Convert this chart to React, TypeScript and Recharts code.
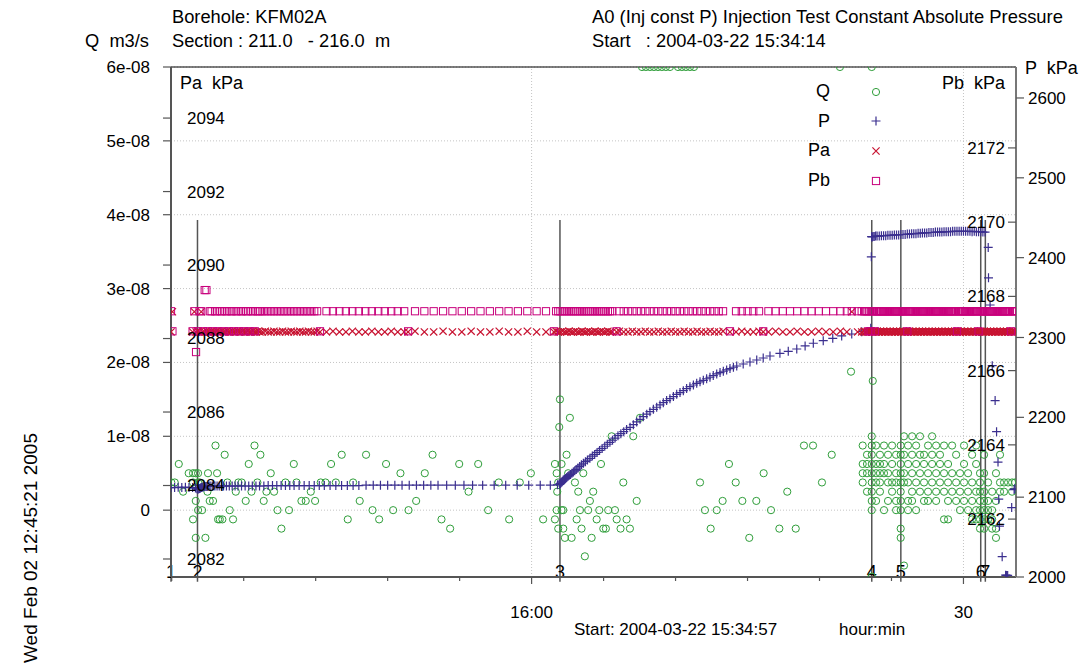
import React from "react";
import {
  ComposedChart,
  Scatter,
  XAxis,
  YAxis,
  CartesianGrid,
  ReferenceLine,
  Legend,
} from "recharts";

const FONT = '"Liberation Sans", Arial, sans-serif';
const Q_COLOR = "#2f9e3a";
const P_COLOR = "#3b2f8f";
const PA_COLOR = "#c81432";
const PB_COLOR = "#c8007c";
const AXIS_COLOR = "#555";

// x values are clock minutes after 15:00
const xTicks = [35, 40, 45, 50, 55, 60, 65, 70, 75, 80, 85, 90];
const xTickLabels: Record<number, string> = { 60: "16:00", 90: "30" };
const xGridAt = [60, 90];

// Q is kept in units of 1e-9 m3/s
const qTicks = [0, 10, 20, 30, 40, 50, 60];
const qTickLabels = ["0", "1e-08", "2e-08", "3e-08", "4e-08", "5e-08", "6e-08"];
const pTicks = [2000, 2100, 2200, 2300, 2400, 2500, 2600];
const paTicks = [2082, 2084, 2086, 2088, 2090, 2092, 2094];
const pbTicks = [2162, 2164, 2166, 2168, 2170, 2172];

const events = [
  { n: "1", t: 34.95 },
  { n: "2", t: 36.79 },
  { n: "3", t: 61.97 },
  { n: "4", t: 83.63 },
  { n: "5", t: 85.65 },
  { n: "6", t: 91.2 },
  { n: "7", t: 91.52 },
];

const qBefore3: [number, number][] = [
  [34.97, 3.75], [35.21, 3.75], [35.49, 6.25], [35.79, 2.5], [36.18, 5], [36.48, 5], [36.67, 5], [36.83, 5],
  [36.48, 3.75], [36.83, 3.75], [36.95, 3.75], [36.67, 1.25], [36.48, -1.25], [36.67, -3.75], [36.83, 0], [37.11, 0],
  [37.34, -3.75], [37.48, 2.5], [37.52, 5], [37.64, 1.25], [37.87, 1.25], [38.04, 8.75], [38.15, 5], [38.22, -1.25],
  [38.34, -1.25], [38.52, -1.25], [38.68, 7.5], [38.87, 3.75], [39.03, 0], [39.26, -1.25], [39.45, 2.5], [39.63, 3.75],
  [39.86, 3.75], [40.14, 1.25], [40.35, 6.25], [40.54, 2.5], [40.75, 8.75], [40.95, 3.75], [41.16, 7.5], [41.39, 1.25],
  [41.58, 2.5], [41.88, 5], [42.11, 2.5], [42.35, 0], [42.62, -2.5], [42.9, 3.75], [43.15, 0], [43.48, 6.25],
  [43.67, 3.75], [44.01, 1.25], [44.31, 1.25], [44.66, 2.5], [44.96, 1.25], [45.35, 3.75], [45.68, 3.75], [46.07, 6.25],
  [46.4, 3.75], [46.81, 7.5], [47.23, -1.25], [47.6, 3.75], [48.06, 1.25], [48.5, 7.5], [48.95, 0], [49.41, -1.25],
  [49.89, 6.25], [50.38, 0], [50.89, 5], [51.45, 0], [51.98, 1.25], [52.58, 5], [53.12, 7.5], [53.74, -1.25],
  [54.34, -2.5], [54.97, 6.25], [55.62, 2.5], [56.29, 6.25], [56.98, 0], [57.72, 3.75], [58.44, -1.25], [59.18, 3.75],
  [59.95, 5], [60.8, -1.25],
];

const qNear3: [number, number][] = [
  [61.62, 6.25], [61.62, -1.25], [61.74, 5], [61.74, 0], [61.78, 2.5], [61.85, 3.75], [61.85, -2.5], [61.92, 11.25],
  [61.97, 15], [62.08, 6.25], [62.08, 0], [62.2, 0], [62.2, -2.5], [62.31, -3.75], [62.43, 7.5], [62.54, 5],
  [62.66, 12.5], [62.78, -3.75], [63.01, 3.75], [63.13, -1.25], [63.24, 2.5], [63.36, 0], [63.47, -2.5], [63.59, 5],
  [63.7, -6.25], [63.93, 0], [64.05, 1.25], [64.17, -3.75], [64.28, 2.5], [64.52, -1.25], [64.7, 0], [64.82, 6.25],
  [64.98, -2.5], [65.16, -2.5], [65.32, 0], [65.56, 10], [65.79, 0], [65.91, -1.25], [66.18, -2.5], [66.37, 3.75],
  [66.6, -1.25], [66.83, -2.5], [67.06, 10], [67.3, 1.25], [67.53, 12.5],
];

const qMid: [number, number][] = [
  [71.7, 3.75], [72.04, 0], [72.44, -2.5], [72.86, 0], [73.27, 1.25], [73.71, 6.25], [74.18, 3.75], [74.64, 1.25],
  [75.12, -3.75], [75.61, 1.25], [76.12, 5], [76.63, 0], [77.21, -2.5], [77.76, 2.5], [78.35, -2.5], [78.92, 8.75],
  [79.55, 8.75], [80.17, 3.75], [80.85, 7.5], [82.19, 18.75], [83.7, 17.5],
];

// readings off the top of the Q scale sit on the top border
const qTop: [number, number][] = [
  [67.67, 60], [67.94, 60], [68.22, 60], [68.5, 60], [68.78, 60], [69.05, 60], [69.33, 60], [69.61, 60],
  [70.17, 60], [70.44, 60], [70.72, 60], [71.0, 60], [71.28, 60], [81.42, 60], [83.63, 60],
];

const qDenseCols: [number, number[]][] = [
  [83.0, [8.75, 6.25, 5, 3.75]],
  [83.3, [7.5, 6.25, 5, 2.5]],
  [83.63, [10, 8.75, 7.5, 6.25, 5, 3.75, 2.5, 1.25, 0, -9]],
  [83.93, [8.75, 6.25, 5, 3.75, 1.25]],
  [84.2, [7.5, 6.25, 5, 3.75, 2.5]],
  [84.48, [8.75, 6.25, 5, 0]],
  [84.76, [7.5, 5, 3.75, 1.25]],
  [85.04, [8.75, 6.25, 3.75, 2.5]],
  [85.32, [7.5, 5, 3.75, 1.25, 0]],
  [85.64, [8.75, 7.5, 6.25, 5, 3.75, 2.5, 1.25, 0, -2.5, -3.75]],
  [85.87, [10, 7.5, 5, 3.75, -7.5]],
  [86.15, [8.75, 6.25, 3.75, 1.25, 0]],
  [86.43, [10, 7.5, 5, 2.5, 1.25]],
  [86.71, [8.75, 6.25, 3.75, 0]],
  [86.98, [10, 7.5, 5, 2.5]],
  [87.26, [7.5, 6.25, 3.75, 1.25]],
  [87.54, [8.75, 5, 2.5, 1.25]],
  [87.82, [10, 7.5, 6.25, 3.75]],
  [88.1, [8.75, 5, 2.5, 1.25]],
  [88.37, [7.5, 6.25, 3.75]],
  [88.65, [8.75, 5, 2.5, -1.25]],
  [88.93, [6.25, 3.75, 1.25, -1.25]],
  [89.21, [8.75, 5, 2.5]],
  [89.49, [7.5, 3.75, 1.25]],
  [89.76, [5, 2.5, 0]],
  [90.04, [8.75, 6.25, 3.75, 1.25]],
  [90.32, [5, 2.5, 0]],
  [90.6, [7.5, 3.75, 1.25, -1.25]],
  [90.88, [8.75, 6.25, 2.5, 0, -1.25]],
  [91.15, [5, 3.75, 2.5, 1.25, 0, -1.25, -2.5]],
  [91.43, [7.5, 5, 2.5, 1.25, 0, -1.25, -2.5]],
  [91.71, [3.75, 1.25, 0, -1.25]],
  [91.99, [2.5, 0, -1.25, -2.5]],
  [92.26, [5, 1.25, -2.5, -3.75]],
  [92.54, [7.5, 3.75, 2.5]],
  [92.82, [3.75, 2.5]],
  [93.1, [3.75]],
  [93.38, [3.75, 2.5]],
  [93.59, [3.75]],
];

const pBefore3: [number, number][] = [
  [34.95, 2112], [35.2, 2112], [35.45, 2112.5], [35.7, 2112], [35.95, 2112.5], [36.2, 2112], [36.45, 2112], [36.65, 2111.5],
  [36.75, 2110.5], [36.82, 2110], [36.88, 2110.5], [36.94, 2111], [37.0, 2111.5], [37.06, 2112], [37.12, 2112.5], [37.18, 2113],
  [37.25, 2113], [37.32, 2113.5], [37.4, 2113.5], [37.5, 2113.5], [37.6, 2114], [37.72, 2114], [37.85, 2114], [38.0, 2114],
  [38.15, 2114], [38.3, 2114], [38.45, 2114], [38.6, 2114], [38.8, 2114], [39.0, 2114], [39.2, 2114], [39.4, 2114],
  [39.6, 2114], [39.85, 2114], [40.1, 2114], [40.35, 2114], [40.6, 2114], [40.85, 2114], [41.1, 2114], [41.4, 2114],
  [41.7, 2114.5], [42.0, 2114.5], [42.3, 2114.5], [42.6, 2114.5], [42.9, 2114.5], [43.2, 2114.5], [43.5, 2114.5], [43.85, 2114.5],
  [44.2, 2114.5], [44.55, 2114.5], [44.9, 2114.5], [45.25, 2114.5], [45.6, 2114.5], [46.0, 2114.5], [46.4, 2114.5], [46.8, 2114.5],
  [47.2, 2114.5], [47.6, 2114.5], [48.0, 2114.5], [48.5, 2115], [49.0, 2115], [49.5, 2115], [50.0, 2115], [50.5, 2115],
  [51.0, 2115], [51.5, 2115], [52.0, 2115], [52.5, 2115], [53.0, 2115], [53.5, 2115], [54.1, 2115], [54.7, 2115],
  [55.3, 2115], [55.9, 2115], [56.6, 2115], [57.4, 2115], [58.2, 2115], [59.0, 2115], [59.8, 2115], [60.6, 2115],
  [61.3, 2115], [61.8, 2115.5],
];

const pRise: [number, number][] = [
  [61.95, 2116], [62.0, 2117], [62.05, 2118], [62.1, 2119], [62.15, 2120], [62.2, 2121.5], [62.28, 2122.5], [62.36, 2123.5],
  [62.44, 2124.5], [62.52, 2126], [62.6, 2127], [62.7, 2128.5], [62.8, 2130], [62.9, 2131.5], [63.0, 2133], [63.1, 2134.5],
  [63.22, 2136.5], [63.34, 2138.5], [63.46, 2140.5], [63.6, 2142.5], [63.74, 2144.5], [63.88, 2146.5], [64.05, 2148.7], [64.22, 2151.5],
  [64.38, 2153.5], [64.55, 2156], [64.72, 2158.5], [64.9, 2161], [65.08, 2163.8], [65.26, 2166.3], [65.44, 2168.7], [65.62, 2171.3],
  [65.8, 2174], [66.0, 2177], [66.2, 2179.5], [66.4, 2182], [66.6, 2184.8], [66.84, 2187.5], [67.07, 2190.8], [67.3, 2194.2],
  [67.53, 2197.5], [67.76, 2200.8], [68.0, 2204], [68.22, 2207.1], [68.46, 2210], [68.69, 2212.6], [68.92, 2215.5], [69.15, 2218.4],
  [69.38, 2221], [69.61, 2223.4], [69.85, 2226], [70.08, 2228.8], [70.31, 2231], [70.54, 2233.4], [70.77, 2236], [71.0, 2238.4],
  [71.24, 2240.5], [71.47, 2242.6], [71.7, 2244.5], [71.93, 2246.4], [72.16, 2248.3], [72.39, 2250.2], [72.62, 2252.3], [72.86, 2254.3],
  [73.09, 2256], [73.32, 2257.7], [73.55, 2259.4], [73.78, 2261], [74.02, 2262.7], [74.25, 2264.3], [74.7, 2266.8], [75.17, 2269.3],
  [75.64, 2271.8], [76.09, 2274.3], [76.56, 2276.8], [77.25, 2280.2], [77.83, 2282.7], [78.42, 2285.6], [79.0, 2289.4], [79.57, 2292.8],
  [80.26, 2296], [80.92, 2299], [81.54, 2301.9], [82.24, 2304.4], [82.93, 2307.3], [83.56, 2311.5],
];

const pPlateau: [number, number][] = [
  [83.6, 2401], [83.62, 2426.3], [83.66, 2426], [83.72, 2426.5], [83.8, 2426.5], [83.9, 2427], [84.0, 2427], [84.15, 2427],
  [84.3, 2427.5], [84.45, 2427.5], [84.6, 2427.5], [84.75, 2428], [84.9, 2428], [85.05, 2428], [85.2, 2428.5], [85.35, 2428.5],
  [85.5, 2428.5], [85.65, 2429], [85.8, 2429], [85.95, 2429], [86.1, 2429.5], [86.25, 2429.5], [86.4, 2430], [86.55, 2430],
  [86.7, 2430], [86.85, 2430.5], [87.0, 2430.5], [87.15, 2431], [87.3, 2431], [87.45, 2431], [87.6, 2431.5], [87.75, 2431.5],
  [87.9, 2431.5], [88.05, 2432], [88.2, 2432], [88.35, 2432], [88.5, 2432], [88.65, 2432.5], [88.8, 2432.5], [88.95, 2432.5],
  [89.1, 2432.5], [89.25, 2433], [89.4, 2433], [89.55, 2433], [89.7, 2433], [89.85, 2433], [90.0, 2433], [90.15, 2433],
  [90.3, 2433], [90.45, 2433], [90.6, 2432.5], [90.75, 2433], [90.9, 2432.5], [91.05, 2432.5], [91.2, 2432.5], [91.35, 2432],
  [91.5, 2432],
];

const pDrop: [number, number][] = [
  [91.72, 2412.8], [91.74, 2374.7], [91.85, 2340.7], [92.0, 2264.7], [92.2, 2221], [92.3, 2182], [92.4, 2144], [92.45, 2097.5],
  [92.5, 2063.6], [92.69, 2025.5], [92.93, 2002.3], [93.0, 2002], [93.07, 2002], [93.35, 2087], [93.52, 2109.5], [93.57, 2110.5],
];

// [t, Pa, Pb]
const pressRows: [number, number, number][] = [
  [34.95, 2088.18, 2167.6], [35.05, 2088.73, 2167.06],
  [36.45, 2088.18, 2167.06], [36.57, 2088.73, 2167.6], [36.69, 2088.18, 2166.5], [36.81, 2088.2, 2167.06], [36.93, 2088.18, 2167.6],
  [37.05, 2088.73, 2167.6], [37.17, 2088.18, 2167.06], [37.29, 2088.18, 2168.17], [37.41, 2088.2, 2168.17], [37.53, 2088.18, 2167.06],
  [37.65, 2088.18, 2167.6], [37.77, 2088.2, 2167.6], [37.89, 2088.18, 2167.06], [38.01, 2088.18, 2167.6], [38.13, 2088.2, 2167.6],
  [38.25, 2088.18, 2167.06], [38.37, 2088.18, 2167.6], [38.49, 2088.2, 2167.6], [38.61, 2088.18, 2167.06], [38.73, 2088.18, 2167.6],
  [38.85, 2088.2, 2167.6], [38.97, 2088.18, 2167.06], [39.09, 2088.18, 2167.6], [39.21, 2088.2, 2167.6], [39.33, 2088.18, 2167.06],
  [39.45, 2088.18, 2167.6], [39.57, 2088.2, 2167.6], [39.69, 2088.18, 2167.06], [39.81, 2088.18, 2167.6], [39.93, 2088.2, 2167.6],
  [40.05, 2088.18, 2167.06], [40.17, 2088.18, 2167.6], [40.29, 2088.2, 2167.6], [40.41, 2088.18, 2167.06], [40.53, 2088.18, 2167.6],
  [40.65, 2088.2, 2167.6], [40.77, 2088.18, 2167.06], [40.89, 2088.18, 2167.6], [41.01, 2088.2, 2167.6], [41.13, 2088.18, 2167.6],
  [41.3, 2088.18, 2167.6], [41.5, 2088.2, 2167.6], [41.7, 2088.18, 2167.6], [41.9, 2088.18, 2167.6], [42.1, 2088.2, 2167.6],
  [42.3, 2088.18, 2167.6], [42.5, 2088.18, 2167.6], [42.7, 2088.2, 2167.6], [42.9, 2088.18, 2167.6], [43.1, 2088.18, 2167.6],
  [43.3, 2088.2, 2167.6], [43.5, 2088.18, 2167.6], [43.7, 2088.18, 2167.6], [43.9, 2088.2, 2167.6], [44.1, 2088.18, 2167.6],
  [44.3, 2088.18, 2167.6], [44.5, 2088.2, 2167.6], [44.7, 2088.18, 2167.6], [44.9, 2088.18, 2167.6], [45.1, 2088.2, 2167.6],
  [45.3, 2088.18, 2167.06], [45.75, 2088.18, 2167.6], [46.2, 2088.2, 2167.6], [46.65, 2088.18, 2167.6], [47.1, 2088.18, 2167.6],
  [47.55, 2088.2, 2167.6], [48.0, 2088.18, 2167.6], [48.45, 2088.18, 2167.6], [48.9, 2088.2, 2167.6], [49.35, 2088.18, 2167.6],
  [49.8, 2088.18, 2167.6], [50.25, 2088.2, 2167.6], [50.7, 2088.18, 2167.6], [51.15, 2088.18, 2167.6], [51.42, 2088.18, 2167.06],
  [51.9, 2088.2, 2167.6], [52.55, 2088.18, 2167.6], [53.2, 2088.18, 2167.6], [53.85, 2088.2, 2167.6], [54.5, 2088.18, 2167.6],
  [55.15, 2088.18, 2167.6], [55.8, 2088.2, 2167.6], [56.45, 2088.18, 2167.6], [57.1, 2088.18, 2167.6], [57.75, 2088.2, 2167.6],
  [58.4, 2088.18, 2167.6], [59.05, 2088.18, 2167.6], [59.7, 2088.2, 2167.6], [60.35, 2088.18, 2167.6], [61.0, 2088.18, 2167.6],
  [61.55, 2088.18, 2167.06], [61.7, 2088.2, 2167.6], [61.85, 2088.18, 2167.6], [62.0, 2088.18, 2167.6], [62.15, 2088.2, 2167.6],
  [62.3, 2088.18, 2167.6], [62.45, 2088.18, 2167.6], [62.6, 2088.2, 2167.6], [62.75, 2088.18, 2167.6], [62.9, 2088.18, 2167.6],
  [63.05, 2088.2, 2167.6], [63.2, 2088.18, 2167.6], [63.35, 2088.18, 2167.6], [63.5, 2088.2, 2167.6], [63.65, 2088.18, 2167.6],
  [63.8, 2088.18, 2167.6], [63.95, 2088.2, 2167.6], [64.1, 2088.18, 2167.6], [64.25, 2088.18, 2167.6], [64.4, 2088.2, 2167.6],
  [64.55, 2088.18, 2167.6], [64.7, 2088.18, 2167.6], [64.85, 2088.2, 2167.6], [65.0, 2088.18, 2167.6], [65.15, 2088.18, 2167.6],
  [65.3, 2088.2, 2167.6], [65.45, 2088.18, 2167.6], [65.6, 2088.18, 2167.6], [65.9, 2088.18, 2167.06], [66.1, 2088.2, 2167.6],
  [66.4, 2088.18, 2167.6], [66.7, 2088.18, 2167.6], [67.0, 2088.2, 2167.6], [67.3, 2088.18, 2167.6], [67.6, 2088.18, 2167.6],
  [67.9, 2088.2, 2167.6], [68.2, 2088.18, 2167.6], [68.5, 2088.18, 2167.6], [68.8, 2088.2, 2167.6], [69.1, 2088.18, 2167.6],
  [69.4, 2088.18, 2167.6], [69.7, 2088.2, 2167.6], [70.0, 2088.18, 2167.6], [70.3, 2088.18, 2167.6], [70.6, 2088.2, 2167.6],
  [70.9, 2088.18, 2167.6], [71.2, 2088.18, 2167.6], [71.5, 2088.2, 2167.6], [71.8, 2088.18, 2167.6], [72.1, 2088.18, 2167.6],
  [72.4, 2088.2, 2167.6], [72.7, 2088.18, 2167.6], [73.0, 2088.18, 2167.6], [73.3, 2088.2, 2167.6], [73.78, 2088.18, 2167.06],
  [74.2, 2088.18, 2167.6], [74.6, 2088.2, 2167.6], [75.0, 2088.18, 2167.6], [75.4, 2088.18, 2167.6], [75.8, 2088.2, 2167.6],
  [76.09, 2088.18, 2167.06], [76.45, 2088.18, 2167.6], [76.95, 2088.2, 2167.6], [77.45, 2088.18, 2167.6], [77.95, 2088.18, 2167.6],
  [78.45, 2088.2, 2167.6], [78.95, 2088.18, 2167.6], [79.45, 2088.18, 2167.6], [79.95, 2088.2, 2167.6], [80.45, 2088.18, 2167.6],
  [80.95, 2088.18, 2167.6], [81.45, 2088.2, 2167.6], [81.9, 2088.18, 2167.6], [82.24, 2088.73, 2167.6], [82.65, 2088.18, 2167.6],
  [82.93, 2088.18, 2167.6], [83.1, 2088.2, 2167.6], [83.25, 2088.18, 2167.6], [83.4, 2088.18, 2167.06], [83.55, 2088.2, 2167.06],
  [83.7, 2088.18, 2167.6], [83.85, 2088.18, 2167.06], [84.0, 2088.2, 2167.6], [84.15, 2088.18, 2167.6], [84.3, 2088.18, 2167.6],
  [84.45, 2088.2, 2167.6], [84.6, 2088.18, 2167.6], [84.75, 2088.18, 2167.6], [84.9, 2088.2, 2167.6], [85.05, 2088.18, 2167.6],
  [85.2, 2088.18, 2167.6], [85.35, 2088.2, 2167.6], [85.5, 2088.18, 2167.6], [85.65, 2088.18, 2167.6], [85.8, 2088.2, 2167.6],
  [85.95, 2088.18, 2167.6], [86.1, 2088.18, 2167.06], [86.25, 2088.2, 2167.6], [86.4, 2088.18, 2167.6], [86.55, 2088.18, 2167.6],
  [86.7, 2088.2, 2167.6], [86.85, 2088.18, 2167.6], [87.0, 2088.18, 2167.6], [87.15, 2088.2, 2167.6], [87.3, 2088.18, 2167.6],
  [87.45, 2088.18, 2167.6], [87.6, 2088.2, 2167.6], [87.75, 2088.18, 2167.6], [87.9, 2088.18, 2167.6], [88.05, 2088.2, 2167.6],
  [88.2, 2088.18, 2167.6], [88.35, 2088.18, 2167.6], [88.5, 2088.2, 2167.6], [88.65, 2088.18, 2167.6], [88.8, 2088.18, 2167.6],
  [88.95, 2088.2, 2167.6], [89.1, 2088.18, 2167.6], [89.25, 2088.18, 2167.6], [89.4, 2088.2, 2167.6], [89.55, 2088.18, 2167.06],
  [89.7, 2088.18, 2167.6], [89.85, 2088.2, 2167.6], [90.0, 2088.18, 2167.6], [90.15, 2088.18, 2167.6], [90.3, 2088.2, 2167.6],
  [90.45, 2088.18, 2167.6], [90.6, 2088.18, 2167.6], [90.75, 2088.2, 2167.6], [90.9, 2088.18, 2167.6], [91.05, 2088.18, 2167.06],
  [91.2, 2088.2, 2167.6], [91.35, 2088.18, 2167.6], [91.5, 2088.18, 2167.6], [91.65, 2088.2, 2167.6], [91.8, 2088.18, 2167.6],
  [91.95, 2088.18, 2167.6], [92.1, 2088.2, 2167.6], [92.25, 2088.18, 2167.6], [92.4, 2088.18, 2167.6], [92.55, 2088.2, 2167.6],
  [92.7, 2088.18, 2167.6], [92.85, 2088.18, 2167.6], [93.0, 2088.2, 2167.6], [93.15, 2088.18, 2167.6], [93.3, 2088.18, 2167.06],
  [93.45, 2088.2, 2167.6], [93.6, 2088.18, 2167.6],
  // the logger sampled faster after event 4
  [83.18, 2088.18, 2167.6], [83.33, 2088.2, 2167.6], [83.48, 2088.18, 2167.6], [83.63, 2088.18, 2167.6], [83.78, 2088.2, 2167.6],
  [83.93, 2088.18, 2167.6], [84.08, 2088.18, 2167.6], [84.23, 2088.2, 2167.6], [84.38, 2088.18, 2167.6], [84.53, 2088.18, 2167.6],
  [84.68, 2088.2, 2167.6], [84.83, 2088.18, 2167.6], [84.98, 2088.18, 2167.6], [85.13, 2088.2, 2167.6], [85.28, 2088.18, 2167.6],
  [85.43, 2088.18, 2167.6], [85.58, 2088.2, 2167.6], [85.73, 2088.18, 2167.6], [85.88, 2088.18, 2167.6], [86.03, 2088.2, 2167.6],
  [86.18, 2088.18, 2167.6], [86.33, 2088.18, 2167.6], [86.48, 2088.2, 2167.6], [86.63, 2088.18, 2167.6], [86.78, 2088.18, 2167.6],
  [86.93, 2088.2, 2167.6], [87.08, 2088.18, 2167.6], [87.23, 2088.18, 2167.6], [87.38, 2088.2, 2167.6], [87.53, 2088.18, 2167.6],
  [87.68, 2088.18, 2167.6], [87.83, 2088.2, 2167.6], [87.98, 2088.18, 2167.6], [88.13, 2088.18, 2167.6], [88.28, 2088.2, 2167.6],
  [88.43, 2088.18, 2167.6], [88.58, 2088.18, 2167.6], [88.73, 2088.2, 2167.6], [88.88, 2088.18, 2167.6], [89.03, 2088.18, 2167.6],
  [89.18, 2088.2, 2167.6], [89.33, 2088.18, 2167.6], [89.48, 2088.18, 2167.6], [89.63, 2088.2, 2167.6], [89.78, 2088.18, 2167.6],
  [89.93, 2088.18, 2167.6], [90.08, 2088.2, 2167.6], [90.23, 2088.18, 2167.6], [90.38, 2088.18, 2167.6], [90.53, 2088.2, 2167.6],
  [90.68, 2088.18, 2167.6], [90.83, 2088.18, 2167.6], [90.98, 2088.2, 2167.6], [91.13, 2088.18, 2167.6], [91.28, 2088.18, 2167.6],
  [91.43, 2088.2, 2167.6], [91.58, 2088.18, 2167.6], [91.73, 2088.18, 2167.6], [91.88, 2088.2, 2167.6], [92.03, 2088.18, 2167.6],
  [92.18, 2088.18, 2167.6], [92.33, 2088.2, 2167.6], [92.48, 2088.18, 2167.6], [92.63, 2088.18, 2167.6], [92.78, 2088.2, 2167.6],
  [92.93, 2088.18, 2167.6], [93.08, 2088.18, 2167.6], [93.23, 2088.2, 2167.6], [93.38, 2088.18, 2167.6], [93.53, 2088.18, 2167.6],
];

const qData = [
  ...qBefore3,
  ...qNear3,
  ...qMid,
  ...qTop,
  ...qDenseCols.flatMap(([t, qs]) => qs.map((q) => [t, q] as [number, number])),
].map(([t, q]) => ({ t, q }));
const pData = [...pBefore3, ...pRise, ...pPlateau, ...pDrop].map(([t, p]) => ({ t, p }));
const paData = pressRows.map(([t, pa]) => ({ t, pa }));
const pbData = pressRows.map(([t, , pb]) => ({ t, pb }));

const legendRows = [
  { name: "Q", kind: "ring", color: Q_COLOR },
  { name: "P", kind: "plus", color: P_COLOR },
  { name: "Pa", kind: "cross", color: PA_COLOR },
  { name: "Pb", kind: "box", color: PB_COLOR },
];

function marker(kind: string, cx: number, cy: number, color: string) {
  if (kind === "ring")
    return <circle cx={cx} cy={cy} r={3.6} fill="none" stroke={color} strokeWidth={1} />;
  if (kind === "plus")
    return (
      <path
        d={`M${cx - 4.5},${cy}H${cx + 4.5}M${cx},${cy - 4.5}V${cy + 4.5}`}
        stroke={color}
        strokeWidth={1.2}
        fill="none"
      />
    );
  if (kind === "cross")
    return (
      <path
        d={`M${cx - 3.6},${cy - 3.6}L${cx + 3.6},${cy + 3.6}M${cx - 3.6},${cy + 3.6}L${cx + 3.6},${cy - 3.6}`}
        stroke={color}
        strokeWidth={1.2}
        fill="none"
      />
    );
  return (
    <rect x={cx - 3.6} y={cy - 3.6} width={7.2} height={7.2} fill="none" stroke={color} strokeWidth={1} />
  );
}

function TimeTick(props: any) {
  const { x, y, payload } = props;
  const label = xTickLabels[payload.value];
  return (
    <g>
      <line x1={x} x2={x} y1={y} y2={y + (label ? 7 : 4)} stroke={AXIS_COLOR} strokeWidth={1.2} />
      {label && (
        <text x={x} y={y + 41} textAnchor="middle" fontSize={17} fill="#000">
          {label}
        </text>
      )}
    </g>
  );
}

function PaTick(props: any) {
  const { x, y, payload } = props;
  return (
    <g>
      <line x1={x - 24} x2={x - 16} y1={y} y2={y} stroke={AXIS_COLOR} strokeWidth={1.2} />
      <text x={x} y={y} dy="0.35em" textAnchor="start" fontSize={17} fill="#000">
        {payload.value}
      </text>
    </g>
  );
}

function EventLabel(props: any) {
  const { viewBox, text } = props;
  if (!viewBox) return null;
  return (
    <text x={viewBox.x} y={viewBox.y + viewBox.height - 4} textAnchor="middle" fontSize={18} fill="#000">
      {text}
    </text>
  );
}

function LegendBox() {
  return (
    <div style={{ fontSize: 18, fontFamily: FONT, color: "#000" }}>
      {legendRows.map((r) => (
        <div key={r.name} style={{ display: "flex", alignItems: "center", height: 29.6 }}>
          <span style={{ width: 40, textAlign: "right" }}>{r.name}</span>
          <svg width={20} height={20} style={{ marginLeft: 36 }}>
            {marker(r.kind, 10, 10, r.color)}
          </svg>
        </div>
      ))}
    </div>
  );
}

function InjectionTestChart() {
  return (
    <div style={{ position: "fixed", left: 0, top: 0, width: 1079, height: 670, fontFamily: FONT, background: "#fff" }}>
      <ComposedChart width={1079} height={670} margin={{ top: 67, right: 0, bottom: 63, left: 0 }}>
        <CartesianGrid yAxisId="q" vertical={false} stroke="#c4c4c4" strokeDasharray="1 2" />
        <XAxis
          dataKey="t"
          type="number"
          domain={[34.95, 93.65]}
          allowDataOverflow
          ticks={xTicks}
          interval={0}
          height={30}
          tickSize={0}
          tickMargin={0}
          tickLine={false}
          tick={<TimeTick />}
          axisLine={{ stroke: AXIS_COLOR, strokeWidth: 2 }}
        />
        <YAxis
          yAxisId="q"
          dataKey="q"
          orientation="left"
          type="number"
          domain={[-9.05, 60]}
          allowDataOverflow
          ticks={qTicks}
          interval={0}
          width={171}
          tickSize={8}
          tickMargin={13}
          tickFormatter={(v: number) => qTickLabels[qTicks.indexOf(v)]}
          tick={{ fontSize: 17, fill: "#000" }}
          tickLine={{ stroke: AXIS_COLOR, strokeWidth: 1.2 }}
          axisLine={{ stroke: AXIS_COLOR, strokeWidth: 2 }}
        />
        <YAxis
          yAxisId="p"
          dataKey="p"
          orientation="right"
          type="number"
          domain={[2000, 2638.8]}
          allowDataOverflow
          ticks={pTicks}
          interval={0}
          width={63}
          tickSize={8}
          tickMargin={4}
          tick={{ fontSize: 17, fill: "#000" }}
          tickLine={{ stroke: AXIS_COLOR, strokeWidth: 1.2 }}
          axisLine={{ stroke: "#777", strokeWidth: 2 }}
        />
        <YAxis
          yAxisId="pa"
          dataKey="pa"
          orientation="left"
          mirror
          type="number"
          domain={[2081.51, 2095.39]}
          allowDataOverflow
          ticks={paTicks}
          interval={0}
          tickSize={0}
          tickMargin={16}
          tickLine={false}
          axisLine={false}
          tick={<PaTick />}
        />
        <YAxis
          yAxisId="pb"
          dataKey="pb"
          orientation="right"
          mirror
          type="number"
          domain={[2160.44, 2174.18]}
          allowDataOverflow
          ticks={pbTicks}
          interval={0}
          tickSize={8}
          tickMargin={3}
          tick={{ fontSize: 17, fill: "#000" }}
          tickLine={{ stroke: AXIS_COLOR, strokeWidth: 1.2 }}
          axisLine={false}
        />
        {xGridAt.map((t) => (
          <ReferenceLine key={`g${t}`} yAxisId="q" x={t} stroke="#c4c4c4" strokeDasharray="1 2" />
        ))}
        <ReferenceLine yAxisId="q" y={60} stroke="#000" strokeWidth={1.2} />
        {events.map((e) => (
          <ReferenceLine
            key={`e${e.n}`}
            yAxisId="q"
            ifOverflow="visible"
            segment={[
              { x: e.t, y: 39.3 },
              { x: e.t, y: -9.7 },
            ]}
            stroke="#555"
            strokeWidth={1.5}
            label={<EventLabel text={e.n} />}
          />
        ))}
        <Scatter
          name="Q"
          data={qData}
          dataKey="q"
          yAxisId="q"
          isAnimationActive={false}
          shape={(p: any) => marker("ring", p.cx, p.cy, Q_COLOR)}
        />
        <Scatter
          name="P"
          data={pData}
          dataKey="p"
          yAxisId="p"
          isAnimationActive={false}
          shape={(p: any) => marker("plus", p.cx, p.cy, P_COLOR)}
        />
        <Scatter
          name="Pa"
          data={paData}
          dataKey="pa"
          yAxisId="pa"
          isAnimationActive={false}
          shape={(p: any) => marker("cross", p.cx, p.cy, PA_COLOR)}
        />
        <Scatter
          name="Pb"
          data={pbData}
          dataKey="pb"
          yAxisId="pb"
          isAnimationActive={false}
          shape={(p: any) => marker("box", p.cx, p.cy, PB_COLOR)}
        />
        <Legend
          layout="vertical"
          align="center"
          verticalAlign="middle"
          content={() => <LegendBox />}
          wrapperStyle={{ left: 790, top: 77, width: 100, height: 120 }}
        />
      </ComposedChart>
      <svg
        width={1079}
        height={670}
        style={{ position: "absolute", left: 0, top: 0, pointerEvents: "none" }}
        fontFamily={FONT}
        fill="#000"
      >
        <text x={172} y={23} fontSize={18.3}>Borehole: KFM02A</text>
        <text x={172} y={47} fontSize={18.3} style={{ whiteSpace: "pre" }}>Section : 211.0   - 216.0  m</text>
        <text x={85} y={47} fontSize={18.3} style={{ whiteSpace: "pre" }}>Q  m3/s</text>
        <text x={592} y={23} fontSize={18.4}>A0 (Inj const P) Injection Test Constant Absolute Pressure</text>
        <text x={592} y={47} fontSize={18.3} style={{ whiteSpace: "pre" }}>Start   : 2004-03-22 15:34:14</text>
        <text x={180} y={89} fontSize={18} style={{ whiteSpace: "pre" }}>Pa  kPa</text>
        <text x={1005} y={89} fontSize={18} textAnchor="end" style={{ whiteSpace: "pre" }}>Pb  kPa</text>
        <text x={1025} y={74} fontSize={18} style={{ whiteSpace: "pre" }}>P  kPa</text>
        <text x={574} y={635} fontSize={17}>Start: 2004-03-22 15:34:57</text>
        <text x={839} y={635} fontSize={17}>hour:min</text>
        <text transform="translate(37 548) rotate(-90)" textAnchor="middle" fontSize={19}>
          Wed Feb 02 12:45:21 2005
        </text>
      </svg>
    </div>
  );
}

export default function App() {
  return <InjectionTestChart />;
}
